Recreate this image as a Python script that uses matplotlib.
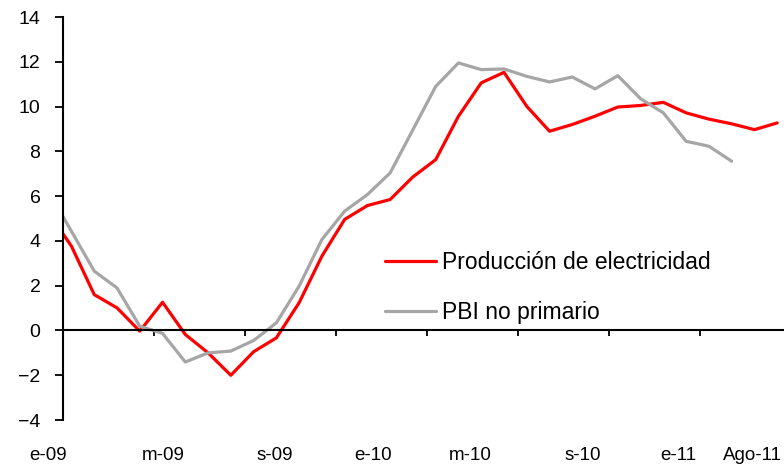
import matplotlib
matplotlib.use("Agg")
import matplotlib.pyplot as plt
import numpy as np

plt.rcParams['font.family'] = ['Liberation Sans', 'DejaVu Sans']

# monthly values, dic-08 .. ago-11 (index 0 = dic-08)
electricidad = [5.25, 3.76, 1.6, 1.01, -0.03, 1.26, -0.18, -1.0, -2.0, -0.95,
                -0.33, 1.24, 3.32, 4.96, 5.58, 5.85, 6.86, 7.63, 9.57, 11.06,
                11.53, 10.01, 8.9, 9.2, 9.57, 9.98, 10.05, 10.19, 9.72, 9.44,
                9.23, 8.97, 9.27]
# dic-08 .. jun-11
pbi_no_primario = [6.18, 4.43, 2.65, 1.9, 0.19, -0.13, -1.41, -1.0, -0.92, -0.45,
                   0.34, 1.98, 4.06, 5.33, 6.07, 7.04, 8.97, 10.9, 11.95, 11.65,
                   11.68, 11.35, 11.1, 11.32, 10.79, 11.38, 10.35, 9.72, 8.45, 8.23,
                   7.56]

x_labels = ['e-09', 'm-09', 's-09', 'e-10', 'm-10', 's-10', 'e-11', 'Ago-11']
x_label_pos = [-0.04, 5.01, 9.93, 14.24, 18.5, 23.47, 27.65, 30.9]

fig = plt.figure(figsize=(7.84, 4.73), dpi=100)
ax = fig.add_axes([0.080, 0.112, 0.92, 0.852])

x_e = np.arange(len(electricidad))
x_p = np.arange(len(pbi_no_primario))
ax.plot(x_e, electricidad, color='#FF0000', lw=2.3, label='Producción de electricidad',
        solid_joinstyle='round', solid_capstyle='round')
ax.plot(x_p, pbi_no_primario, color='#A6A6A6', lw=2.3, label='PBI no primario',
        solid_joinstyle='round', solid_capstyle='round')

ax.set_xlim(0.615, 32.3)
ax.set_ylim(-4, 14)
ax.set_yticks(np.arange(-4, 15, 2))
ax.tick_params(axis='y', length=6, width=1.3, direction='out', labelsize=14, pad=10)

ax.spines['top'].set_visible(False)
ax.spines['right'].set_visible(False)
ax.spines['left'].set_linewidth(1.5)
ax.spines['bottom'].set_position(('data', 0))
ax.spines['bottom'].set_linewidth(1.5)
ax.set_xticks(0.615 + 4 * np.arange(8))
ax.tick_params(axis='x', length=4.5, width=1.3, direction='out', labelbottom=False)

for lab, p in zip(x_labels, x_label_pos):
    ax.text(p, -0.087, lab, transform=ax.get_xaxis_transform(), ha='center', va='center',
            fontsize=13.5, clip_on=False)

ax.legend(loc='center left', bbox_to_anchor=(0.447, 0.329), frameon=False, fontsize=16.5,
          borderpad=0, borderaxespad=0, handlelength=2.2, handletextpad=0.3,
          labelspacing=1.17)

fig.savefig('out.png', dpi=100)
